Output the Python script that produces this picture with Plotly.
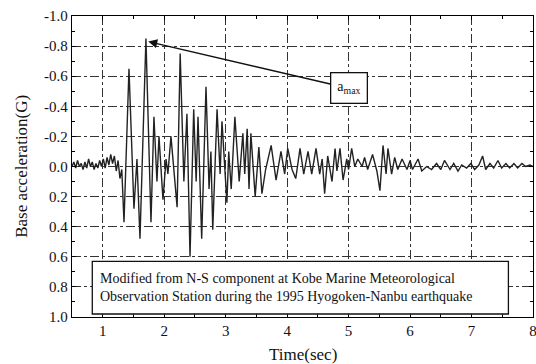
import plotly.graph_objects as go

# ---- data: turning points (time in s, accel in G) ----
pre_t = [0.50, 0.53, 0.56, 0.59, 0.62, 0.65, 0.68, 0.71, 0.74, 0.77, 0.80, 0.83, 0.86, 0.89,
         0.92, 0.95, 0.98, 1.01, 1.04, 1.07, 1.10, 1.13, 1.16, 1.19, 1.22, 1.25, 1.28, 1.31]
pre_a = [0.00, -0.03, 0.01, -0.04, 0.00, -0.02, 0.02, -0.03, 0.01, -0.05, 0.00, -0.03, 0.02, -0.02,
         0.01, -0.04, 0.00, -0.05, 0.01, -0.06, -0.01, -0.08, -0.02, -0.07, 0.03, -0.04, 0.08, 0.02]

main_t = [1.346, 1.427, 1.508, 1.557, 1.606, 1.703, 1.785, 1.833, 1.882, 1.915, 1.980, 2.03, 2.06,
          2.11, 2.21, 2.26, 2.32, 2.37, 2.42, 2.48, 2.52, 2.55, 2.61, 2.68, 2.73, 2.76, 2.79, 2.86,
          2.91, 2.94, 3.02, 3.05, 3.09, 3.15, 3.22, 3.28, 3.31, 3.35, 3.38, 3.41, 3.48, 3.54, 3.59,
          3.65, 3.74, 3.82, 3.90, 3.96, 4.01, 4.08, 4.14, 4.21, 4.27, 4.34, 4.40, 4.47, 4.53, 4.57,
          4.61, 4.66, 4.73, 4.78, 4.81, 4.86, 4.91, 4.97, 5.00, 5.05, 5.10, 5.15, 5.22, 5.26, 5.31,
          5.39, 5.46, 5.51, 5.56, 5.61, 5.64, 5.70, 5.75, 5.80, 5.87, 5.95, 6.00, 6.04, 6.13, 6.19,
          6.27, 6.35, 6.43, 6.50, 6.56, 6.65, 6.71, 6.78, 6.84, 6.92, 6.99, 7.05, 7.12, 7.18, 7.23,
          7.30, 7.36, 7.43, 7.49, 7.56, 7.62, 7.69, 7.75, 7.82, 7.88, 7.95, 8.00]
main_a = [0.37, -0.65, 0.28, -0.05, 0.48, -0.85, 0.37, -0.33, 0.10, -0.20, 0.22, -0.05, 0.05,
          -0.20, 0.27, -0.75, 0.10, -0.35, 0.60, -0.38, 0.10, -0.33, 0.48, -0.53, 0.15, -0.10, 0.42, -0.38,
          0.05, -0.30, 0.24, -0.10, 0.15, -0.33, 0.10, -0.22, 0.05, -0.25, 0.15, -0.22, 0.20, -0.13, 0.18,
          0.02, -0.14, 0.09, -0.10, 0.05, -0.12, 0.02, 0.08, -0.12, 0.05, -0.10, 0.05, -0.12, 0.05, -0.05,
          0.18, -0.07, 0.10, -0.12, 0.03, -0.12, 0.09, -0.05, 0.02, -0.12, 0.00, -0.05, 0.00, -0.06, 0.02,
          -0.08, 0.03, 0.16, -0.14, 0.05, -0.12, 0.05, -0.06, 0.02, -0.05, 0.02, -0.04, 0.02, -0.05, 0.03,
          0.00, 0.02, -0.02, 0.02, -0.04, 0.02, -0.02, 0.03, -0.01, 0.01, -0.02, 0.02, -0.01, -0.07, 0.02,
          -0.02, 0.01, -0.04, 0.01, -0.02, 0.01, -0.02, 0.01, -0.02, 0.00, -0.01, 0.00]

time_s = pre_t + main_t
accel_g = pre_a + main_a

x_ticks = [1, 2, 3, 4, 5, 6, 7, 8]
y_ticks = [-1.0, -0.8, -0.6, -0.4, -0.2, 0.0, 0.2, 0.4, 0.6, 0.8, 1.0]
y_tick_labels = ["-1.0", "-0.8", "-0.6", "-0.4", "-0.2", "0.0", "0.2", "0.4", "0.6", "0.8", "1.0"]

peak_t, peak_a = 1.74, -0.83
label_t, label_a = 5.0, -0.52

note = ("Modified from N-S component at Kobe Marine Meteorological<br>"
        "Observation Station during the 1995 Hyogoken-Nanbu earthquake")

SERIF = "Liberation Serif, Times New Roman, serif"
INK = "#111111"

fig = go.Figure()
fig.add_trace(go.Scatter(x=time_s, y=accel_g, mode="lines",
                         line=dict(color="#222222", width=1.4), showlegend=False,
                         hoverinfo="skip"))

axis_common = dict(showline=True, linecolor="black", linewidth=1.3, mirror="ticks",
                   showgrid=True, gridcolor="#333333", griddash="dashdot", gridwidth=1,
                   zeroline=False, ticks="inside", ticklen=4, tickcolor="black",
                   automargin=False, ticklabeloverflow="allow",
                   tickfont=dict(family=SERIF, size=15, color=INK))

fig.update_xaxes(range=[0.5, 8.0], tickvals=x_ticks, **axis_common,
                 minor=dict(ticks="inside", ticklen=3, dtick=0.5, tick0=0.5, showgrid=False))
fig.update_yaxes(range=[1.0, -1.0], tickvals=y_ticks, ticktext=y_tick_labels, **axis_common,
                 minor=dict(ticks="inside", ticklen=3, dtick=0.1, tick0=0, showgrid=False))

# axis titles
fig.add_annotation(x=0.5, y=-0.085, xref="paper", yref="paper", text="Time(sec)",
                   showarrow=False, xanchor="center", yanchor="top",
                   font=dict(family=SERIF, size=17, color=INK))
fig.add_annotation(x=-0.11, y=0.5, xref="paper", yref="paper", text="Base acceleration(G)",
                   showarrow=False, textangle=-90, xanchor="center", yanchor="middle",
                   font=dict(family=SERIF, size=17, color=INK))

fig.add_shape(type="rect", xref="x", yref="y", x0=0.83, x1=7.6, y0=0.63, y1=0.98,
              line=dict(color=INK, width=1.3), fillcolor="white", layer="above")
fig.add_annotation(x=0.92, y=0.805, xref="x", yref="y", text=note, showarrow=False,
                   xanchor="left", yanchor="middle", align="left",
                   font=dict(family=SERIF, size=14, color=INK))

fig.add_annotation(x=peak_t, y=peak_a, ax=label_t, ay=label_a, axref="x", ayref="y",
                   xref="x", yref="y", text="a<sub>max</sub>", showarrow=True,
                   arrowhead=2, arrowsize=1.2, arrowwidth=1.5, arrowcolor=INK,
                   bordercolor=INK, borderwidth=1.3, borderpad=6, bgcolor="white",
                   font=dict(family=SERIF, size=14, color=INK))

fig.update_layout(width=536, height=364, margin=dict(l=72, r=3, t=16, b=47),
                  paper_bgcolor="white", plot_bgcolor="white")

fig.write_html("out.html", config={"displayModeBar": False, "staticPlot": True},
               post_script="document.body.style.margin='0';document.body.style.overflow='hidden';")
